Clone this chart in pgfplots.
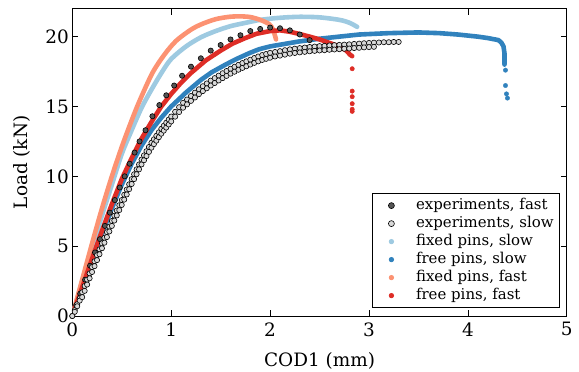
\documentclass[border=0pt]{standalone}
\usepackage{fontspec}
\setmainfont{DejaVu Serif}
\usepackage{pgfplots}
\usepackage{pgfplotstable}
\pgfplotsset{compat=1.18}
\definecolor{salmon}{HTML}{FC9272}
\definecolor{dred}{HTML}{DE2D26}
\definecolor{lblue}{HTML}{9ECAE1}
\definecolor{dblue}{HTML}{3182BD}
\definecolor{expfast}{HTML}{555555}
\definecolor{expslow}{HTML}{D9D9D9}

\pgfplotstableread{
x y
0 0
0.04 0.78
0.08 1.6
0.13 2.6
0.18 3.6
0.23 4.55
0.28 5.5
0.33 6.45
0.38 7.4
0.43 8.3
0.48 9.2
0.53 10.0
0.58 10.9
0.63 11.7
0.68 12.5
0.74 13.3
0.81 14.3
0.88 15.1
0.95 15.8
1.03 16.5
1.11 17.2
1.2 17.85
1.3 18.45
1.4 19.0
1.5 19.4
1.6 19.8
1.7 20.1
1.8 20.4
1.9 20.55
2.0 20.65
2.1 20.6
2.2 20.45
2.3 20.15
2.4 19.75
2.49 19.25
}\expfast

\pgfplotstableread{
x y
0.000 0.00
0.025 0.42
0.050 0.85
0.075 1.27
0.100 1.70
0.125 2.15
0.150 2.60
0.175 3.05
0.200 3.50
0.225 3.92
0.250 4.35
0.275 4.77
0.300 5.20
0.325 5.60
0.350 6.00
0.375 6.40
0.400 6.80
0.425 7.18
0.450 7.55
0.475 7.93
0.500 8.30
0.525 8.68
0.550 9.05
0.575 9.43
0.600 9.80
0.625 10.15
0.650 10.50
0.675 10.85
0.700 11.20
0.725 11.50
0.750 11.80
0.775 12.10
0.800 12.40
0.825 12.65
0.850 12.90
0.875 13.15
0.900 13.40
0.925 13.62
0.950 13.84
0.975 14.06
1.000 14.28
1.04 14.62
1.08 14.95
1.12 15.26
1.16 15.50
1.20 15.75
1.24 15.99
1.28 16.23
1.32 16.45
1.36 16.65
1.40 16.85
1.44 17.03
1.48 17.21
1.52 17.38
1.56 17.54
1.60 17.70
1.64 17.84
1.68 17.98
1.72 18.11
1.76 18.23
1.80 18.35
1.84 18.47
1.88 18.58
1.92 18.68
1.96 18.76
2.00 18.84
2.05 18.90
2.10 18.96
2.15 19.03
2.20 19.09
2.25 19.14
2.30 19.18
2.35 19.22
2.40 19.26
2.45 19.29
2.50 19.32
2.55 19.34
2.60 19.37
2.65 19.39
2.70 19.41
2.75 19.43
2.80 19.45
2.85 19.48
2.90 19.50
2.95 19.53
3.00 19.55
3.05 19.57
3.10 19.58
3.15 19.60
3.20 19.60
3.25 19.62
3.30 19.62
}\expslowA

\pgfplotstableread{
x y
0.025 0.30
0.050 0.70
0.075 1.10
0.100 1.35
0.125 1.80
0.150 2.25
0.175 2.70
0.200 3.15
0.225 3.57
0.250 4.00
0.275 4.42
0.300 4.85
0.325 5.25
0.350 5.65
0.375 6.05
0.400 6.45
0.425 6.83
0.450 7.20
0.475 7.58
0.500 7.95
0.525 8.33
0.550 8.70
0.575 9.08
0.600 9.45
0.625 9.80
0.650 10.15
0.675 10.50
0.700 10.85
0.725 11.15
0.750 11.45
0.775 11.75
0.800 12.05
0.825 12.30
0.850 12.55
0.875 12.80
0.900 13.05
0.925 13.27
0.950 13.49
0.975 13.71
1.000 13.93
1.04 14.27
1.08 14.60
1.12 14.91
1.16 15.15
1.20 15.40
1.24 15.64
1.28 15.88
1.32 16.10
1.36 16.30
1.40 16.50
1.44 16.68
1.48 16.86
1.52 17.03
1.56 17.19
1.60 17.35
1.64 17.49
1.68 17.63
1.72 17.76
1.76 17.88
1.80 18.00
1.84 18.12
1.88 18.23
1.92 18.33
1.96 18.41
2.00 18.49
2.05 18.58
2.10 18.64
2.15 18.71
2.20 18.78
2.25 18.83
2.30 18.87
2.35 18.91
2.40 18.95
2.45 18.98
2.50 19.01
2.55 19.03
2.60 19.06
2.65 19.08
2.70 19.10
2.75 19.13
2.80 19.15
2.85 19.18
2.90 19.20
2.95 19.23
3.00 19.25
3.05 19.27
}\expslowB

\pgfplotstableread{
x y
0 0
0.1 2.45
0.2 4.9
0.3 7.2
0.4 9.4
0.5 11.6
0.6 13.3
0.7 14.9
0.8 16.2
0.91 17.5
1.0 18.4
1.15 19.3
1.3 19.95
1.45 20.4
1.6 20.75
1.76 21.0
1.9 21.2
2.1 21.35
2.3 21.42
2.5 21.38
2.7 21.2
2.8 21.0
2.88 20.7
}\fixslow

\pgfplotstableread{
x y
0 0
0.1 2.0
0.2 4.0
0.3 5.9
0.4 7.7
0.5 9.4
0.6 10.9
0.7 12.2
0.8 13.3
0.9 14.2
1.0 15.0
1.15 16.0
1.3 16.9
1.41 17.45
1.55 18.0
1.66 18.4
1.8 18.85
1.89 19.1
2.0 19.3
2.29 19.65
2.5 19.85
2.7 20.0
2.9 20.15
3.2 20.25
3.5 20.3
3.71 20.25
3.9 20.15
4.1 20.0
4.2 19.9
4.31 19.75
4.34 19.55
4.36 19.3
4.37 18.8
4.37 18.0
}\freeslow

\pgfplotstableread{
x y
4.38 17.6
4.38 16.5
4.39 15.9
4.40 15.6
}\freeslowdrop

\pgfplotstableread{
x y
0 0
0.1 2.6
0.2 5.2
0.3 7.7
0.4 10.0
0.5 12.1
0.6 14.0
0.68 15.4
0.81 17.4
0.93 18.7
1.05 19.7
1.2 20.5
1.31 20.9
1.45 21.25
1.59 21.42
1.7 21.45
1.8 21.4
1.9 21.2
1.99 20.9
2.03 20.5
2.06 19.8
}\fixfast

\pgfplotstableread{
x y
0 0
0.1 2.05
0.2 4.1
0.3 6.1
0.4 8.0
0.5 9.8
0.6 11.3
0.7 12.7
0.81 14.0
0.9 15.0
1.0 15.9
1.1 16.7
1.2 17.4
1.35 18.3
1.5 19.0
1.62 19.5
1.75 19.9
1.86 20.2
2.0 20.4
2.1 20.45
2.2 20.35
2.29 20.2
2.4 20.0
2.5 19.8
2.6 19.55
2.7 19.3
2.77 19.0
2.81 18.7
2.83 18.6
}\freefast

\pgfplotstableread{
x y
2.83 17.7
2.83 16.1
2.83 15.7
2.83 15.2
2.83 14.8
2.83 14.65
}\freefastdrop

\begin{document}
\begin{tikzpicture}
\begin{axis}[
  scale only axis,
  width=494.5bp, height=307.3bp,
  xmin=0, xmax=5, ymin=0, ymax=22,
  xtick={0,1,2,3,4,5}, ytick={0,5,10,15,20},
  tick pos=both, tick align=inside,
  major tick length=6bp,
  tick style={black, line width=0.8bp},
  axis line style={black, line width=1bp},
  /pgf/number format/assume math mode=true,
  tick label style={font=\fontsize{18.5}{22}\selectfont},
  xticklabel style={yshift=-3bp},
  label style={font=\fontsize{18.5}{22}\selectfont},
  xlabel={COD1 (mm)}, ylabel={Load (kN)},
  xlabel style={yshift=-9.5bp},
  ylabel style={yshift=8bp},
  clip=true,
  legend cell align=left,
  legend style={at={(0.986,0.026)}, anchor=south east,
    draw=black, line width=0.8bp, rounded corners=0pt,
    font=\fontsize{15}{17}\selectfont,
    nodes={text height=11bp, text depth=3.5bp, inner sep=1.75bp},
    inner xsep=4bp, inner ysep=3bp,
    legend image code/.code={\path (0bp,0bp) (36.75bp,0bp); \draw[#1] plot coordinates {(14.25bp,0bp)};}},
]
\addplot[forget plot, only marks, mark=*, mark size=2.6bp, mark options={fill=expfast, draw=black, line width=0.6bp}] table {\expfast};
\addplot[forget plot, only marks, mark=*, mark size=2.6bp, mark options={fill=expslow, draw=black, line width=0.6bp}] table {\expslowA};
\addplot[forget plot, only marks, mark=*, mark size=2.6bp, mark options={fill=expslow, draw=black, line width=0.6bp}] table {\expslowB};
\addplot[forget plot, lblue, line width=4.6bp, line cap=round, line join=round, smooth] table {\fixslow};
\addplot[forget plot, dblue, line width=4.6bp, line cap=round, line join=round] table {\freeslow};
\addplot[forget plot, only marks, mark=*, mark size=2.2bp, color=dblue] table {\freeslowdrop};
\addplot[forget plot, salmon, line width=4.6bp, line cap=round, line join=round, smooth] table {\fixfast};
\addplot[forget plot, dred, line width=4.6bp, line cap=round, line join=round] table {\freefast};
\addplot[forget plot, only marks, mark=*, mark size=2.2bp, color=dred] table {\freefastdrop};

\addlegendimage{only marks, mark=*, mark size=3bp, mark options={fill=expfast, draw=black, line width=0.6bp}}
\addlegendentry{experiments, fast}
\addlegendimage{only marks, mark=*, mark size=3bp, mark options={fill=expslow, draw=black, line width=0.6bp}}
\addlegendentry{experiments, slow}
\addlegendimage{only marks, mark=*, mark size=2.2bp, color=lblue}
\addlegendentry{fixed pins, slow}
\addlegendimage{only marks, mark=*, mark size=2.2bp, color=dblue}
\addlegendentry{free pins, slow}
\addlegendimage{only marks, mark=*, mark size=2.2bp, color=salmon}
\addlegendentry{fixed pins, fast}
\addlegendimage{only marks, mark=*, mark size=2.2bp, color=dred}
\addlegendentry{free pins, fast}
\end{axis}
\pgfresetboundingbox
\path[use as bounding box] (current axis.south west) ++(-72.3bp,-56bp) rectangle ++(579bp,372bp);
\end{tikzpicture}
\end{document}
